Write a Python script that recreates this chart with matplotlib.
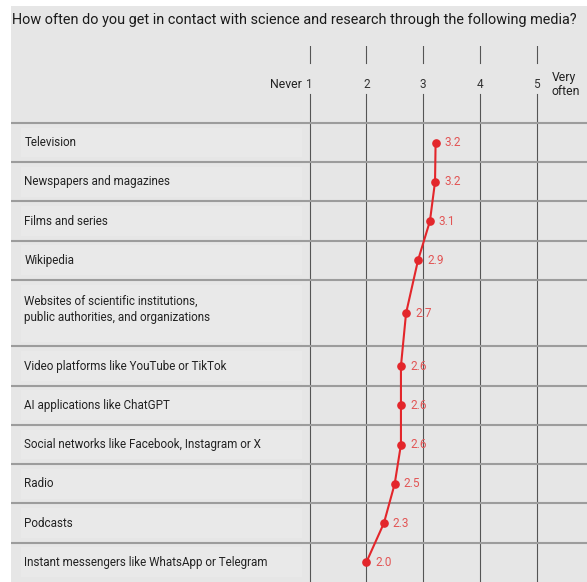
import numpy as np
import matplotlib.pyplot as plt
from matplotlib.patches import Rectangle

plt.rcParams['font.family'] = ['Roboto', 'DejaVu Sans']

title = 'How often do you get in contact with science and research through the following media?'
media = [
    'Television',
    'Newspapers and magazines',
    'Films and series',
    'Wikipedia',
    'Websites of scientific institutions,\npublic authorities, and organizations',
    'Video platforms like YouTube or TikTok',
    'AI applications like ChatGPT',
    'Social networks like Facebook, Instagram or X',
    'Radio',
    'Podcasts',
    'Instant messengers like WhatsApp or Telegram',
]
scores = [3.22, 3.21, 3.12, 2.91, 2.70, 2.61, 2.61, 2.61, 2.50, 2.31, 2.00]
scale_ticks = [1, 2, 3, 4, 5]
scale_low, scale_high = 'Never', 'Very\noften'

# row heights (the long label gets a taller row)
row_h = np.array([1, 1, 1, 1, 1.69, 1, 1, 1, 1, 1, 1])
edges = np.concatenate([[0], np.cumsum(row_h)])
centers = (edges[:-1] + edges[1:]) / 2

W, H = 587, 582
bg = '#e6e6e6'
red = '#e3262b'

fig = plt.figure(figsize=(W / 100, H / 100), dpi=100, facecolor='white')
fig.patches.append(Rectangle((11 / W, 0), 1, (H - 6) / H, transform=fig.transFigure,
                             facecolor=bg, edgecolor='none', zorder=-1))
fig.text(12 / W, 1 - 20 / H, title, fontsize=10.4, color='#1a1a1a', va='center', ha='left')

unit_px = 56.8
x1_px = 309.5
ax = fig.add_axes([11 / W, 0, 1 - 11 / W, (H - 46) / H], zorder=1)
ax.set_xlim(1 - (x1_px - 11) / unit_px, 1 + (W - x1_px) / unit_px)
top = -(123 - 46) / 39.3
ax.set_ylim(edges[-1], top)
ax.set_facecolor('none')
ax.axis('off')

# faint label boxes
for c, h in zip(centers, row_h):
    ax.add_patch(Rectangle((-4.08, c - h / 2 + 0.12), 4.95, h - 0.24,
                           facecolor='#e9e9e9', edgecolor='none', zorder=1))

# grid
gap_top, gap_bot = -(123 - 63) / 39.3, -(123 - 94) / 39.3
for t in scale_ticks:
    ax.plot([t, t], [top, gap_top], color='#555555', lw=0.8, zorder=2)
    ax.plot([t, t], [gap_bot, edges[-1]], color='#555555', lw=0.8, zorder=2)
    ax.text(t, -0.99, str(t), ha='center', va='center', fontsize=8.5, color='#333333')
for e in edges[:-1]:
    ax.axhline(e, color='#9c9c9c', lw=1.5, zorder=2)

ax.text(0.86, -0.99, scale_low, ha='right', va='center', fontsize=8.8, color='#222222')
ax.text(5.26, -0.99, scale_high, ha='left', va='center', fontsize=8.8, color='#222222',
        linespacing=1.1)

for c, name, h in zip(centers, media, row_h):
    yy = c if h == 1 else c - 0.1
    ax.text(-4.02, yy, name, ha='left', va='center', fontsize=8.35, color='#222222',
            linespacing=1.35, zorder=3)

ax.plot(scores, centers, color=red, lw=1.5, marker='o', markersize=5.2, zorder=4)
for s, c in zip(scores, centers):
    ax.annotate(f'{s:.1f}', (s, c), xytext=(6.5, 0), textcoords='offset points',
                va='center', ha='left', fontsize=8.5, color='#e25555', zorder=4)

fig.savefig('out.png', dpi=100)
